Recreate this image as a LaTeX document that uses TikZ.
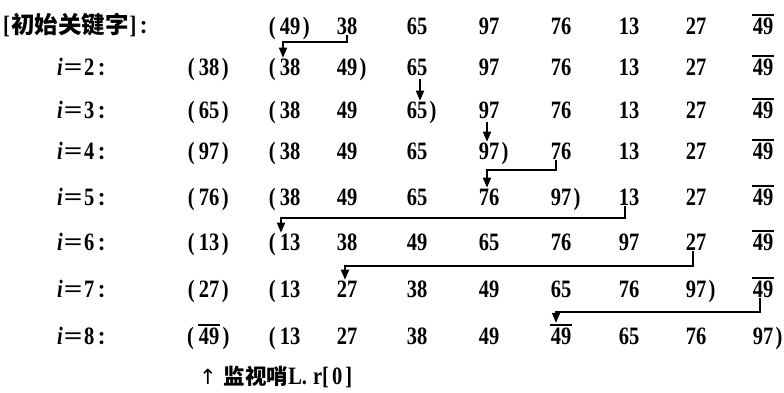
\documentclass[tikz,border=0pt]{standalone}
\usepackage{fontspec}
\usetikzlibrary{arrows.meta}
\newfontfamily\numf{Liberation Serif}[FakeStretch=0.82]
\newfontfamily\cjk{Noto Sans CJK SC}
\newfontfamily\symf{DejaVu Sans}
\newcommand\lp{\llap{\smash{(}\kern4pt}}
\newcommand\rp{\rlap{\kern2.5pt\smash{)}}}
\newcommand\ovl[1]{\vbox{\hrule height 1.5pt\kern2.4pt\hbox{\kern0.8pt#1\kern0.8pt}}}
\newcommand\colonc{\kern3pt{\cjk\bfseries\fontsize{18}{18}\selectfont ：}}
\newcommand\eqw{\kern1pt\scalebox{1.6}[1]{=}\kern1.5pt}
\begin{document}
\begin{tikzpicture}[x=1pt,y=-1pt,
  num/.style={font=\numf\bfseries\fontsize{25}{28}\selectfont, inner sep=0pt, anchor=base},
  lab/.style={font=\numf\bfseries\fontsize{25}{28}\selectfont, inner sep=0pt, anchor=base west},
  arr/.style={line width=1.7pt, -{Triangle[length=10pt,width=8pt]}, shorten >=1pt}]
\useasboundingbox (0,0) rectangle (784,393);

% header row
\node[lab] (head) at (3,34) {[\kern1pt{\cjk\bfseries\fontsize{23.5}{24}\selectfont 初始关键字}\kern1pt]\colonc};
\node[num] (r0c1) at (290,34.5) {\lp49\rp};
\node[num] (r0c2) at (347,34.5) {38};
\node[num] (r0c3) at (417,34.5) {65};
\node[num] (r0c4) at (489,34.5) {97};
\node[num] (r0c5) at (561,34.5) {76};
\node[num] (r0c6) at (629,34.5) {13};
\node[num] (r0c7) at (696,34.5) {27};
\node[num] (r0c8) at (763,34.5) {\ovl{49}};

% i=2
\node[lab] (l2) at (57,75.5) {\textit{i}\eqw2\colonc};
\node[num] (r2s)  at (209,75.5) {\lp38\rp};
\node[num] (r2c1) at (290,75.5) {\lp38};
\node[num] (r2c2) at (347,75.5) {49\rp};
\node[num] (r2c3) at (417,75.5) {65};
\node[num] (r2c4) at (489,75.5) {97};
\node[num] (r2c5) at (561,75.5) {76};
\node[num] (r2c6) at (629,75.5) {13};
\node[num] (r2c7) at (696,75.5) {27};
\node[num] (r2c8) at (763,75.5) {\ovl{49}};

% i=3
\node[lab] (l3) at (57,118.5) {\textit{i}\eqw3\colonc};
\node[num] (r3s)  at (209,118.5) {\lp65\rp};
\node[num] (r3c1) at (290,118.5) {\lp38};
\node[num] (r3c2) at (347,118.5) {49};
\node[num] (r3c3) at (417,118.5) {65\rp};
\node[num] (r3c4) at (489,118.5) {97};
\node[num] (r3c5) at (561,118.5) {76};
\node[num] (r3c6) at (629,118.5) {13};
\node[num] (r3c7) at (696,118.5) {27};
\node[num] (r3c8) at (763,118.5) {\ovl{49}};

% i=4
\node[lab] (l4) at (57,159.5) {\textit{i}\eqw4\colonc};
\node[num] (r4s)  at (209,159.5) {\lp97\rp};
\node[num] (r4c1) at (290,159.5) {\lp38};
\node[num] (r4c2) at (347,159.5) {49};
\node[num] (r4c3) at (417,159.5) {65};
\node[num] (r4c4) at (489,159.5) {97\rp};
\node[num] (r4c5) at (561,159.5) {76};
\node[num] (r4c6) at (629,159.5) {13};
\node[num] (r4c7) at (696,159.5) {27};
\node[num] (r4c8) at (763,159.5) {\ovl{49}};

% i=5
\node[lab] (l5) at (57,205.5) {\textit{i}\eqw5\colonc};
\node[num] (r5s)  at (209,205.5) {\lp76\rp};
\node[num] (r5c1) at (290,205.5) {\lp38};
\node[num] (r5c2) at (347,205.5) {49};
\node[num] (r5c3) at (417,205.5) {65};
\node[num] (r5c4) at (489,205.5) {76};
\node[num] (r5c5) at (561,205.5) {97\rp};
\node[num] (r5c6) at (629,205.5) {13};
\node[num] (r5c7) at (696,205.5) {27};
\node[num] (r5c8) at (763,205.5) {\ovl{49}};

% i=6
\node[lab] (l6) at (57,250.5) {\textit{i}\eqw6\colonc};
\node[num] (r6s)  at (209,250.5) {\lp13\rp};
\node[num] (r6c1) at (290,250.5) {\lp13};
\node[num] (r6c2) at (347,250.5) {38};
\node[num] (r6c3) at (417,250.5) {49};
\node[num] (r6c4) at (489,250.5) {65};
\node[num] (r6c5) at (561,250.5) {76};
\node[num] (r6c6) at (629,250.5) {97};
\node[num] (r6c7) at (696,250.5) {27};
\node[num] (r6c8) at (763,250.5) {\ovl{49}};

% i=7
\node[lab] (l7) at (57,297.5) {\textit{i}\eqw7\colonc};
\node[num] (r7s)  at (209,297.5) {\lp27\rp};
\node[num] (r7c1) at (290,297.5) {\lp13};
\node[num] (r7c2) at (347,297.5) {27};
\node[num] (r7c3) at (417,297.5) {38};
\node[num] (r7c4) at (489,297.5) {49};
\node[num] (r7c5) at (561,297.5) {65};
\node[num] (r7c6) at (629,297.5) {76};
\node[num] (r7c7) at (696,297.5) {97\rp};
\node[num] (r7c8) at (763,297.5) {\ovl{49}};

% i=8
\node[lab] (l8) at (57,344.5) {\textit{i}\eqw8\colonc};
\node[num] (r8s)  at (209,344.5) {\lp\ovl{49}\rp};
\node[num] (r8c1) at (290,344.5) {\lp13};
\node[num] (r8c2) at (347,344.5) {27};
\node[num] (r8c3) at (417,344.5) {38};
\node[num] (r8c4) at (489,344.5) {49};
\node[num] (r8c5) at (561,344.5) {\ovl{49}};
\node[num] (r8c6) at (629,344.5) {65};
\node[num] (r8c7) at (696,344.5) {76};
\node[num] (r8c8) at (763,344.5) {97\rp};

% footer
\node[lab] (foot) at (199,384) {{\symf\mdseries\fontsize{21}{21}\selectfont ↑}\kern7pt{\cjk\bfseries\fontsize{21.5}{22}\selectfont 监视哨}L.\kern6pt r[\kern3pt0\kern3pt]};

% connectors
\draw[arr] (r0c2.south) -- ++(0,7) -| ([xshift=-7pt]r2c1.north);
\draw[arr] ([xshift=3pt]r2c3.south) ++(0,3) -- ([xshift=3pt]r3c3.north);
\draw[arr] ([xshift=-2pt]r3c4.south) ++(0,3) -- ([xshift=-2pt]r4c4.north);
\draw[arr] ([xshift=-5pt]r4c5.south) -- ++(0,10) -| ([xshift=-2pt]r5c4.north);
\draw[arr] ([xshift=-4pt]r5c6.south) -- ++(0,12) -| ([xshift=-9pt]r6c1.north);
\draw[arr] ([xshift=-3pt]r6c7.south) -- ++(0,15) -| ([xshift=-2pt]r7c2.north);
\draw[arr] ([xshift=-3pt]r7c8.south) -- ++(0,14) -| ([xshift=-5pt]r8c5.north);
\end{tikzpicture}
\end{document}
